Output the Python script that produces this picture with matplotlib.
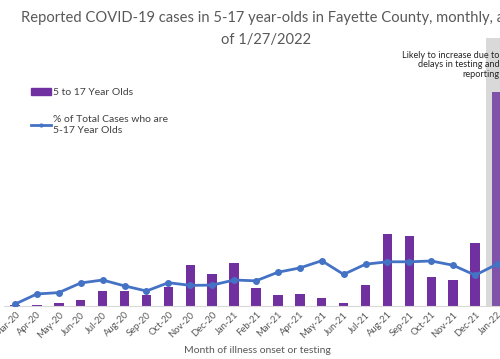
import matplotlib.pyplot as plt
from matplotlib.patches import Patch
from matplotlib.lines import Line2D

plt.rcParams['font.family'] = ['Lato', 'DejaVu Sans']

# monthly data
months = ['Mar-20', 'Apr-20', 'May-20', 'Jun-20', 'Jul-20', 'Aug-20', 'Sep-20',
          'Oct-20', 'Nov-20', 'Dec-20', 'Jan-21', 'Feb-21', 'Mar-21', 'Apr-21',
          'May-21', 'Jun-21', 'Jul-21', 'Aug-21', 'Sep-21', 'Oct-21', 'Nov-21',
          'Dec-21', 'Jan-22']
cases = [10, 10, 30, 60, 150, 155, 115, 190, 410, 325, 435, 180, 115, 125,
         85, 30, 210, 720, 700, 290, 260, 630, 2140]
pct = [0.7, 4.5, 5.0, 8.6, 9.7, 7.5, 5.6, 8.7, 7.7, 7.8, 9.7, 9.4, 12.6, 14.2,
       16.9, 11.8, 15.6, 16.5, 16.5, 16.8, 15.2, 11.5, 15.6]

purple = '#7030a0'
blue = '#4472c4'
grey_txt = '#595959'

fig = plt.figure(figsize=(5, 3.59), dpi=100)
ax = fig.add_axes([0.0081, 0.1476, 1.0078, 0.7465])
x = list(range(len(months)))

# shaded band for the incomplete month
ax.axvspan(x[-1] - 0.5, x[-1] + 0.5, color='#d9d9d9', zorder=0, lw=0)
colors = [purple] * (len(months) - 1) + ['#8052a8']
ax.bar(x, cases, width=0.43, color=colors, zorder=2)
ax.set_xlim(-0.5, len(months) - 0.5)
ax.set_ylim(0, 2680)
ax.set_yticks([])
for s in ['top', 'right', 'left']:
    ax.spines[s].set_visible(False)
ax.spines['bottom'].set_color('#d9d9d9')
ax.set_xticks(x)
ax.set_xticklabels(months, rotation=45, ha='right', rotation_mode='anchor',
                   fontsize=6.8, color=grey_txt)
ax.tick_params(axis='x', length=0, pad=3)

ax2 = ax.twinx()
ax2.plot(x, pct, color=blue, lw=2, marker='o', ms=4, zorder=3)
ax2.set_ylim(0, 100)
ax2.set_yticks([])
for s in ax2.spines.values():
    s.set_visible(False)

fig.text(0.532, 0.95, 'Reported COVID-19 cases in 5-17 year-olds in Fayette County, monthly, as',
         ha='center', va='center', fontsize=10.6, color=grey_txt)
fig.text(0.532, 0.888, 'of 1/27/2022',
         ha='center', va='center', fontsize=10.6, color=grey_txt)
fig.text(0.514, 0.025, 'Month of illness onset or testing', ha='center', va='center',
         fontsize=7.5, color=grey_txt)
fig.text(0.999, 0.858, 'Likely to increase due to\ndelays in testing and\nreporting',
         ha='right', va='top', fontsize=6.6, color='#262626', linespacing=1.05)

handles = [Patch(color=purple),
           Line2D([0], [0], color=blue, lw=2, marker='o', ms=2)]
labels = ['5 to 17 Year Olds', '% of Total Cases who are\n5-17 Year Olds']
fig.legend(handles, labels, loc='upper left', bbox_to_anchor=(0.062, 0.755),
           frameon=False, fontsize=7.5, labelcolor='#404040', handlelength=1.9,
           handletextpad=0.2, labelspacing=1.75, borderpad=0, borderaxespad=0)

fig.savefig('out.png', dpi=100)
